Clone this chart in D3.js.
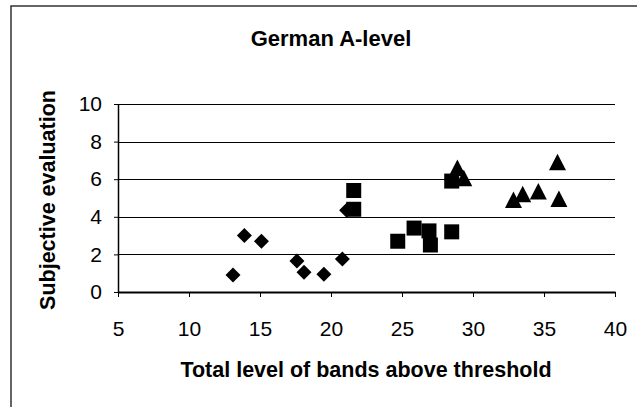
<!DOCTYPE html>
<html>
<head>
<meta charset="utf-8">
<script src="https://cdn.jsdelivr.net/npm/d3@7"></script>
<style>
  body { margin: 0; background: #fff; overflow: hidden; }
  text { font-family: "Liberation Sans", Arial, sans-serif; fill: #000; }
</style>
</head>
<body>
<svg class="chart" width="637" height="407"></svg>
<script>
// values
const diamondX = [13.1, 13.9, 15.1, 17.6, 18.1, 19.5, 20.8, 21.1]
const diamondY = [0.9, 3.0, 2.7, 1.65, 1.05, 0.95, 1.75, 4.35]
const squareX = [21.6, 21.6, 24.7, 25.85, 26.9, 27.0, 28.5, 28.5]
const squareY = [5.4, 4.4, 2.7, 3.4, 3.25, 2.5, 3.2, 5.9]
const triangleX = [28.9, 29.35, 32.85, 33.5, 34.6, 35.95, 36.05]
const triangleY = [6.6, 6.05, 4.9, 5.2, 5.35, 6.9, 4.95]
const xTicks = [5, 10, 15, 20, 25, 30, 35, 40]
const yTicks = [0, 2, 4, 6, 8, 10]

const svg = d3.select("svg.chart")

// chart frame (runs past the right and bottom edge of the picture)
svg.append("rect")
  .attr("x", 11).attr("y", 6)
  .attr("width", 640).attr("height", 420)
  .attr("fill", "none").attr("stroke", "#333").attr("stroke-width", 1.5)

const x = d3.scaleLinear().domain([5, 40]).range([118, 615])
const y = d3.scaleLinear().domain([0, 10]).range([292, 104])

// gridlines
svg.append("g")
  .selectAll("line")
  .data(yTicks.filter(d => d > 0))
  .enter()
  .append("line")
  .attr("x1", x(5)).attr("x2", x(40))
  .attr("y1", d => Math.round(y(d)) + 0.5)
  .attr("y2", d => Math.round(y(d)) + 0.5)
  .attr("stroke", "#000")

// y axis
const yAxis = svg.append("g")
  .attr("transform", `translate(${x(5)},0)`)
  .call(d3.axisLeft(y).tickValues(yTicks).tickSize(4).tickSizeOuter(0).tickPadding(12))
yAxis.select(".domain").attr("stroke", "#000").attr("stroke-width", 1.5)
yAxis.selectAll("text").style("font-size", "21px")

// x axis
const xAxis = svg.append("g")
  .attr("transform", `translate(0,${y(0)})`)
  .call(d3.axisBottom(x).tickValues(xTicks).tickSize(5).tickSizeOuter(0).tickPadding(24))
xAxis.select(".domain").attr("stroke", "#000").attr("stroke-width", 2)
xAxis.selectAll("text").style("font-size", "21px")

// titles
svg.append("text")
  .attr("x", 331).attr("y", 46)
  .attr("text-anchor", "middle")
  .style("font-size", "22px").style("font-weight", "bold")
  .text("German A-level")

svg.append("text")
  .attr("x", 366).attr("y", 377)
  .attr("text-anchor", "middle")
  .style("font-size", "21.5px").style("font-weight", "bold")
  .text("Total level of bands above threshold")

svg.append("text")
  .attr("transform", "translate(55,200) rotate(-90)")
  .attr("text-anchor", "middle")
  .style("font-size", "21.5px").style("font-weight", "bold")
  .text("Subjective evaluation")

// marker shapes
const diamondPath = "M0,-7.5L7.5,0L0,7.5L-7.5,0Z"
const squarePath = "M-7.5,-7.5H7.5V7.5H-7.5Z"
const trianglePath = "M0,-8.5L8.5,8L-8.5,8Z"

const marks = svg.append("g")

marks.selectAll("path.diamond")
  .data(diamondX)
  .enter()
  .append("path")
  .attr("class", "diamond")
  .attr("transform", (d, i) => `translate(${x(d)},${y(diamondY[i])})`)
  .attr("d", diamondPath)
  .attr("fill", "#000")

marks.selectAll("path.square")
  .data(squareX)
  .enter()
  .append("path")
  .attr("class", "square")
  .attr("transform", (d, i) => `translate(${x(d)},${y(squareY[i])})`)
  .attr("d", squarePath)
  .attr("fill", "#000")

marks.selectAll("path.triangle")
  .data(triangleX)
  .enter()
  .append("path")
  .attr("class", "triangle")
  .attr("transform", (d, i) => `translate(${x(d)},${y(triangleY[i])})`)
  .attr("d", trianglePath)
  .attr("fill", "#000")
</script>
</body>
</html>
